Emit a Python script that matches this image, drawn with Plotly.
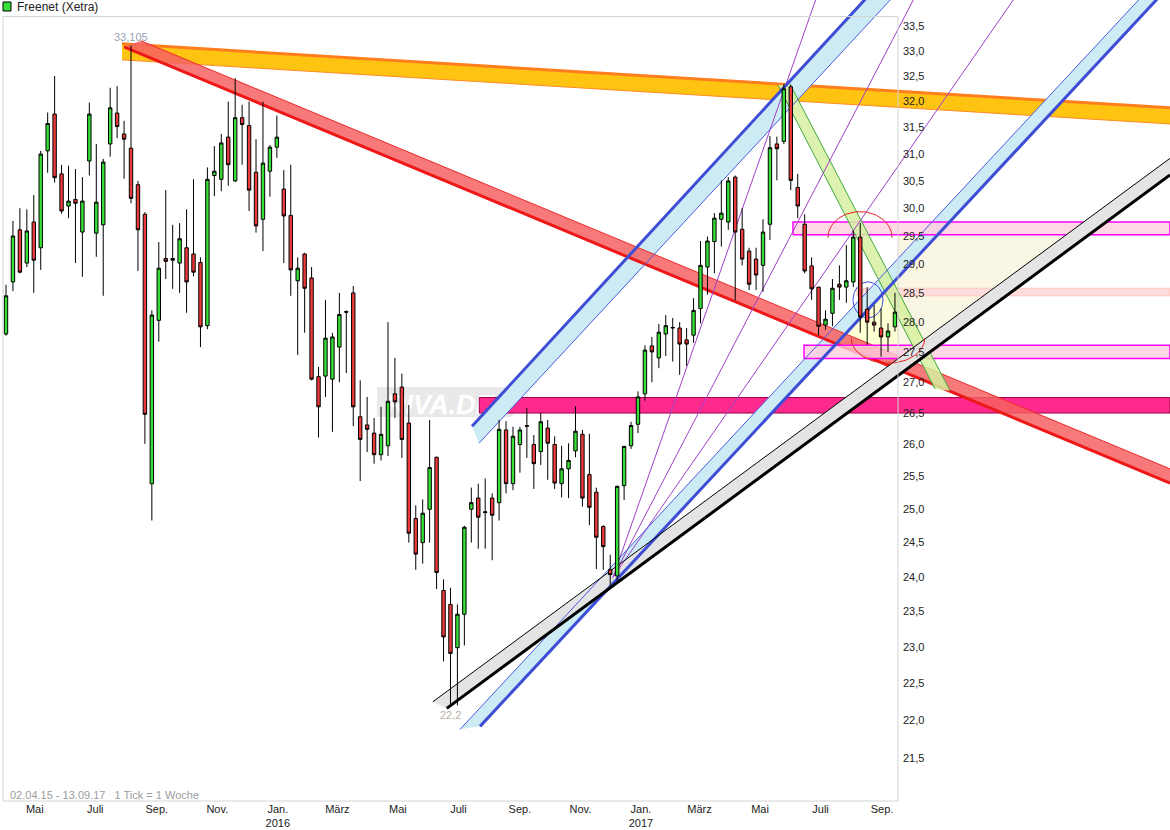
import numpy as np
import pandas as pd
import plotly.graph_objects as go

START = pd.Timestamp("2015-04-02")

opens = [27.80, 28.69, 29.61, 29.02, 29.75, 29.29, 31.06, 31.76, 30.63, 30.04,
         30.16, 29.57, 30.87, 29.55, 29.70, 31.19, 31.78, 31.38, 31.11, 30.43,
         29.89, 25.39, 28.03, 29.10, 29.10, 29.02, 29.29, 29.18, 29.03, 27.94,
         30.60, 30.53, 31.32, 30.50, 31.69, 31.54, 30.66, 29.80, 30.68, 31.13,
         30.35, 29.87, 28.71, 29.18, 28.76, 27.09, 27.10, 27.05, 27.58, 28.18,
         28.50, 26.44, 26.31, 26.18, 25.84, 25.98, 26.81, 26.92, 26.34, 24.86,
         24.50, 25.00, 25.80, 23.80, 23.60, 22.99, 23.46, 25.00, 25.17, 24.95,
         25.17, 25.10, 26.23, 25.39, 26.00, 26.30, 26.00, 25.89, 26.26, 26.00,
         25.39, 25.62, 25.90, 26.16, 25.53, 25.26, 24.74, 24.10, 24.01, 25.36,
         25.98, 26.32, 26.81, 27.60, 27.40, 27.80, 27.90, 27.90, 27.70, 27.78,
         28.23, 28.95, 29.40, 29.80, 29.75, 30.57, 29.62, 29.23, 29.09, 28.98,
         29.71, 31.19, 31.24, 32.29, 30.38, 29.71, 28.97, 28.60, 27.95, 28.15,
         28.65, 28.60, 28.69, 29.48, 28.22, 28.00, 27.90, 27.75, 27.92]
highs = [28.64, 29.77, 30.00, 29.98, 30.24, 31.06, 31.79, 32.50, 30.80, 30.78,
         30.72, 30.57, 31.98, 31.19, 30.91, 32.27, 32.30, 31.63, 33.105, 30.50,
         29.93, 28.20, 29.39, 30.33, 29.70, 29.73, 29.98, 30.53, 29.12, 30.75,
         31.15, 31.38, 32.00, 32.46, 31.94, 32.00, 31.28, 32.00, 31.17, 31.73,
         30.70, 30.80, 29.12, 29.20, 28.95, 27.25, 28.38, 27.82, 28.50, 28.20,
         28.62, 27.03, 26.76, 26.42, 26.60, 28.00, 27.40, 27.14, 26.63, 25.06,
         25.15, 26.39, 25.81, 23.96, 23.84, 23.60, 24.75, 25.33, 25.39, 25.47,
         25.24, 26.39, 26.37, 26.28, 26.28, 26.58, 26.15, 26.50, 26.39, 26.13,
         25.98, 26.02, 26.61, 26.23, 26.17, 25.33, 24.76, 24.32, 25.36, 25.98,
         26.36, 26.85, 27.61, 27.75, 27.97, 28.12, 28.07, 28.00, 27.90, 28.41,
         29.41, 29.49, 29.91, 30.51, 30.57, 30.60, 30.00, 29.29, 29.29, 29.80,
         31.34, 31.33, 32.34, 32.33, 30.63, 29.89, 29.12, 28.60, 28.20, 28.74,
         28.98, 29.34, 29.60, 29.73, 28.60, 28.29, 28.23, 27.98, 28.50]
lows = [27.77, 28.53, 28.84, 28.95, 28.50, 28.90, 30.65, 30.47, 29.90, 29.82,
        29.02, 28.78, 30.60, 29.13, 28.45, 30.95, 31.30, 30.54, 30.09, 28.88,
        26.01, 24.83, 27.67, 28.74, 28.57, 28.50, 28.16, 28.79, 27.58, 27.88,
        30.22, 30.31, 30.41, 30.48, 30.80, 29.95, 29.56, 29.23, 30.21, 30.93,
        29.02, 28.45, 27.45, 27.82, 27.03, 26.11, 26.76, 26.20, 27.00, 27.15,
        26.29, 25.43, 25.88, 25.70, 25.75, 25.82, 26.42, 25.79, 24.50, 24.10,
        24.19, 24.50, 23.82, 22.80, 22.20, 22.20, 23.02, 24.50, 24.41, 24.41,
        24.24, 24.83, 25.24, 25.29, 25.56, 25.79, 25.31, 25.68, 25.45, 25.31,
        25.18, 25.17, 25.80, 25.04, 24.76, 24.11, 24.10, 23.87, 23.94, 25.14,
        25.93, 26.18, 26.70, 27.00, 27.23, 27.43, 27.34, 27.12, 27.27, 27.65,
        27.98, 28.47, 28.84, 29.31, 29.61, 28.37, 28.98, 28.55, 28.55, 28.52,
        29.43, 30.51, 31.19, 30.33, 29.82, 28.84, 28.38, 27.78, 27.87, 27.93,
        28.38, 28.33, 28.60, 27.82, 27.62, 27.84, 27.42, 27.50, 27.84]
closes = [28.45, 29.50, 28.86, 29.59, 29.07, 31.00, 31.58, 30.56, 29.95, 30.13,
          30.09, 30.13, 31.76, 30.11, 30.85, 31.88, 31.52, 31.28, 30.18, 29.61,
          26.48, 28.12, 28.93, 29.05, 29.07, 29.45, 28.69, 28.86, 27.92, 30.53,
          30.68, 31.21, 30.80, 31.69, 31.56, 30.33, 29.68, 30.83, 31.13, 31.32,
          29.86, 28.90, 28.93, 28.58, 27.05, 26.60, 27.73, 27.75, 28.13, 28.17,
          26.60, 26.08, 26.24, 25.84, 26.16, 26.69, 26.68, 26.08, 24.64, 24.33,
          24.94, 25.64, 24.06, 23.14, 22.91, 23.46, 24.73, 25.10, 24.88, 24.96,
          24.91, 26.24, 25.39, 26.13, 26.23, 26.29, 25.70, 26.36, 26.02, 25.40,
          25.62, 25.75, 26.21, 25.17, 25.03, 24.58, 24.44, 24.03, 25.35, 25.97,
          26.30, 26.76, 27.53, 27.50, 27.83, 27.94, 27.91, 27.63, 27.63, 28.20,
          28.98, 29.41, 29.82, 29.91, 30.50, 29.57, 29.09, 28.65, 28.81, 29.57,
          31.12, 31.10, 32.25, 30.51, 30.04, 28.88, 28.57, 27.93, 28.05, 28.58,
          28.60, 28.71, 29.48, 28.09, 28.00, 27.95, 27.75, 27.85, 28.17]
weeks = list(range(len(opens)))

month_dates = ["2015-05-01", "2015-07-01", "2015-09-01", "2015-11-01", "2016-01-01",
               "2016-03-01", "2016-05-01", "2016-07-01", "2016-09-01", "2016-11-01",
               "2017-01-01", "2017-03-01", "2017-05-01", "2017-07-01", "2017-09-01"]
month_labels = ["Mai", "Juli", "Sep.", "Nov.", "Jan.<br>2016", "März", "Mai", "Juli",
                "Sep.", "Nov.", "Jan.<br>2017", "März", "Mai", "Juli", "Sep."]
month_ticks = [(pd.Timestamp(d) - START).days / 7.0 for d in month_dates]

price_ticks = [21.5, 22.0, 22.5, 23.0, 23.5, 24.0, 24.5, 25.0, 25.5, 26.0, 26.5, 27.0,
               27.5, 28.0, 28.5, 29.0, 29.5, 30.0, 30.5, 31.0, 31.5, 32.0, 32.5, 33.0, 33.5]
price_labels = [f"{v:.1f}".replace(".", ",") for v in price_ticks]

# ---- chart drawings, anchor points as (week, price) ----
orange_top = [(16.70, 33.14), (167.6, 31.88)]
orange_bot = [(16.70, 32.82), (167.6, 31.57)]
red_bot = [(16.99, 33.08), (167.6, 25.40)]
red_top = [(19.44, 33.20), (167.6, 25.62)]
blue_up_thick = [(67.10, 26.29), (126.23, 34.44)]
blue_up_thin = [(68.11, 26.02), (129.95, 34.44)]
blue_lo_thin = [(65.37, 21.88), (165.71, 34.44)]
blue_lo_thick = [(68.25, 21.92), (168.27, 34.44)]
black_thin = [(61.48, 22.25), (167.6, 30.92)]
black_thick = [(63.46, 22.16), (167.6, 30.61)]
fan_origin = (87.40, 23.99)
fan_ends = [(117.57, 34.44), (132.11, 34.44), (147.0, 34.44)]
green_left = [(111.16, 32.32), (133.77, 26.89)]
green_right = [(112.89, 32.34), (135.93, 26.86)]
zone_upper = (113.32, 167.6, 29.52, 29.75)
zone_mid = (122.53, 167.6, 28.45, 28.58)
zone_lower = (114.90, 167.6, 27.39, 27.61)
zone_hot = (68.15, 167.6, 26.50, 26.75)
cream_tri = [(128.44, 29.50), (152.48, 29.50), (128.44, 27.38)]
yellow_tri = [(119.38, 27.62), (128.44, 28.77), (128.44, 27.50), (119.0, 27.50)]
arc_top = (122.97, 29.47, 4.61, 0.00684)     # centre week, centre price, half width (weeks), height (log10)
arc_low = (127.0, 27.73, 5.3, -0.0066)
ellipse = (124.12, 28.38, 2.16, 0.00473)

X_MIN, X_MAX = -0.864, 167.603
Y_LOG = [1.321208, 1.531883]

fig = go.Figure()


def poly(pts, fill, line_color=None, lw=0):
    xs = [p[0] for p in pts] + [pts[0][0]]
    ys = [p[1] for p in pts] + [pts[0][1]]
    fig.add_trace(go.Scatter(x=xs, y=ys, mode="lines", fill="toself", fillcolor=fill,
                             line=dict(color=line_color or fill, width=lw),
                             hoverinfo="skip"))


def seg(pts, color, width):
    fig.add_trace(go.Scatter(x=[p[0] for p in pts], y=[p[1] for p in pts], mode="lines",
                             line=dict(color=color, width=width), hoverinfo="skip"))


def zone(z, fill, line_color, lw):
    x0, x1, p0, p1 = z
    poly([(x0, p0), (x1, p0), (x1, p1), (x0, p1)], fill, line_color, lw)


poly(cream_tri, "#FAF6E4")
poly(yellow_tri, "#FFFFD4")
zone(zone_mid, "#FFDCDC", "#FFC8BC", 1)
zone(zone_hot, "#FF2A8E", "#9B0046", 1)
# orange band
poly([orange_top[0], orange_top[1], orange_bot[1], orange_bot[0]], "#FFC312")
seg(orange_bot, "#FF8A2A", 1)
seg(orange_top, "#FF7F1E", 3)
# blue channels fills
poly([blue_up_thick[0], blue_up_thick[1], blue_up_thin[1], blue_up_thin[0]], "#CDEBF4")
poly([blue_lo_thin[0], blue_lo_thin[1], blue_lo_thick[1], blue_lo_thick[0]], "#CDEBF4")
# red band
poly([red_bot[0], red_bot[1], red_top[1], red_top[0]], "rgba(246,98,98,0.85)")
seg(red_top, "#EE2A2A", 1)
seg(red_bot, "#EE1818", 3)
zone(zone_upper, "rgba(255,205,222,0.8)", "#FF00FF", 1.5)
zone(zone_lower, "rgba(255,205,222,0.8)", "#FF00FF", 1.5)
# green band
poly([green_left[0], green_left[1], green_right[1], green_right[0]], "rgba(214,240,160,0.85)")
seg(green_left, "#3DAA3D", 1)
seg(green_right, "#3DAA3D", 1)
# gray band
poly([black_thin[0], black_thin[1], black_thick[1], black_thick[0]], "#E4E4E4")
# fan
for e in fan_ends:
    seg([fan_origin, e], "#A040C8", 1)
# blue lines
seg(blue_up_thin, "#4A5AE0", 1)
seg(blue_up_thick, "#3D4DD6", 3)
seg(blue_lo_thin, "#4A5AE0", 1)
seg(blue_lo_thick, "#3D4DD6", 3)
# black lines
seg(black_thin, "#000000", 1)
seg(black_thick, "#000000", 3)
# arcs and ellipse
t = np.linspace(0, np.pi, 50)
for cx, cp, rx, ry in (arc_top, arc_low):
    fig.add_trace(go.Scatter(x=cx + rx * np.cos(t), y=10 ** (np.log10(cp) + ry * np.sin(t)),
                             mode="lines", line=dict(color="#E82020", width=1), hoverinfo="skip"))
t2 = np.linspace(0, 2 * np.pi, 80)
cx, cp, rx, ry = ellipse
fig.add_trace(go.Scatter(x=cx + rx * np.cos(t2), y=10 ** (np.log10(cp) + ry * np.sin(t2)),
                         mode="lines", line=dict(color="#3D4DD6", width=1), hoverinfo="skip"))

# candles on overlay axes (above drawings)
fig.add_trace(go.Candlestick(
    x=weeks, open=opens, high=highs, low=lows, close=closes,
    xaxis="x2", yaxis="y2", whiskerwidth=0, hoverinfo="skip",
    increasing=dict(fillcolor="#36E036", line=dict(color="#000000", width=1)),
    decreasing=dict(fillcolor="#EC3A3A", line=dict(color="#000000", width=1)),
))

W, H = 1170, 830
PB = 801.0


def px(x):
    return x / W


def py(y):
    return 1 - y / PB


fig.add_annotation(x=18, y=np.log10(33.105), xref="x", yref="y", text="33,105",
                   showarrow=False, yshift=9, font=dict(size=11, color="#9AA2B6"))
fig.add_annotation(x=64, y=np.log10(22.2), xref="x", yref="y", text="22,2",
                   showarrow=False, yshift=-10, font=dict(size=11, color="#B8AEA4"))
fig.add_annotation(x=px(15), y=py(7), xref="paper", yref="paper", text="Freenet (Xetra)",
                   showarrow=False, xanchor="left", yanchor="middle",
                   font=dict(size=12, color="#222222"))
fig.add_annotation(x=px(8), y=py(795), xref="paper", yref="paper",
                   text="02.04.15 - 13.09.17&nbsp;&nbsp;&nbsp;1 Tick = 1 Woche",
                   showarrow=False, xanchor="left", yanchor="middle",
                   font=dict(size=11, color="#9C9C9C"))

fig.add_shape(type="rect", xref="paper", yref="paper", x0=px(3), x1=px(11), y0=py(11), y1=py(2),
              fillcolor="#36E036", line=dict(color="#000000", width=1), layer="above")
fig.add_shape(type="rect", xref="paper", yref="paper", x0=px(3), x1=px(898), y0=0, y1=py(16.5),
              fillcolor="rgba(0,0,0,0)", line=dict(color="#D4D4D4", width=1), layer="above")
fig.add_shape(type="rect", xref="paper", yref="paper", x0=px(377), x1=px(513), y0=py(417), y1=py(387),
              fillcolor="rgba(218,218,218,0.6)", line=dict(width=0), layer="below",
              label=dict(text="RIVA.DE", textposition="middle left", padding=6,
                         font=dict(size=27, color="white", family="Liberation Sans",
                                   weight="bold", style="italic")))

fig.update_layout(
    width=W, height=H,
    margin=dict(l=0, r=0, t=0, b=H - PB, pad=0),
    paper_bgcolor="white", plot_bgcolor="white",
    showlegend=False,
    font=dict(family="Liberation Sans, Arial, sans-serif", size=11, color="#222222"),
    xaxis=dict(range=[X_MIN, X_MAX], tickvals=month_ticks, ticktext=month_labels,
               showgrid=False, zeroline=False, showline=False, ticks="",
               tickfont=dict(size=11, color="#222222"), fixedrange=True),
    yaxis=dict(type="log", range=Y_LOG, tickvals=price_ticks, ticktext=price_labels,
               anchor="free", position=898 / W, side="right",
               showgrid=False, zeroline=False, showline=False, ticks="",
               ticklabelstandoff=4,
               tickfont=dict(size=11, color="#222222"), fixedrange=True),
    xaxis2=dict(range=[X_MIN, X_MAX], overlaying="x", anchor="y2", visible=False,
                rangeslider=dict(visible=False), fixedrange=True),
    yaxis2=dict(type="log", range=Y_LOG, overlaying="y", anchor="x2", visible=False,
                fixedrange=True),
)

fig.write_html("out.html", config={"displayModeBar": False, "staticPlot": True},
               post_script="document.body.style.margin='0';document.body.style.overflow='hidden';")
